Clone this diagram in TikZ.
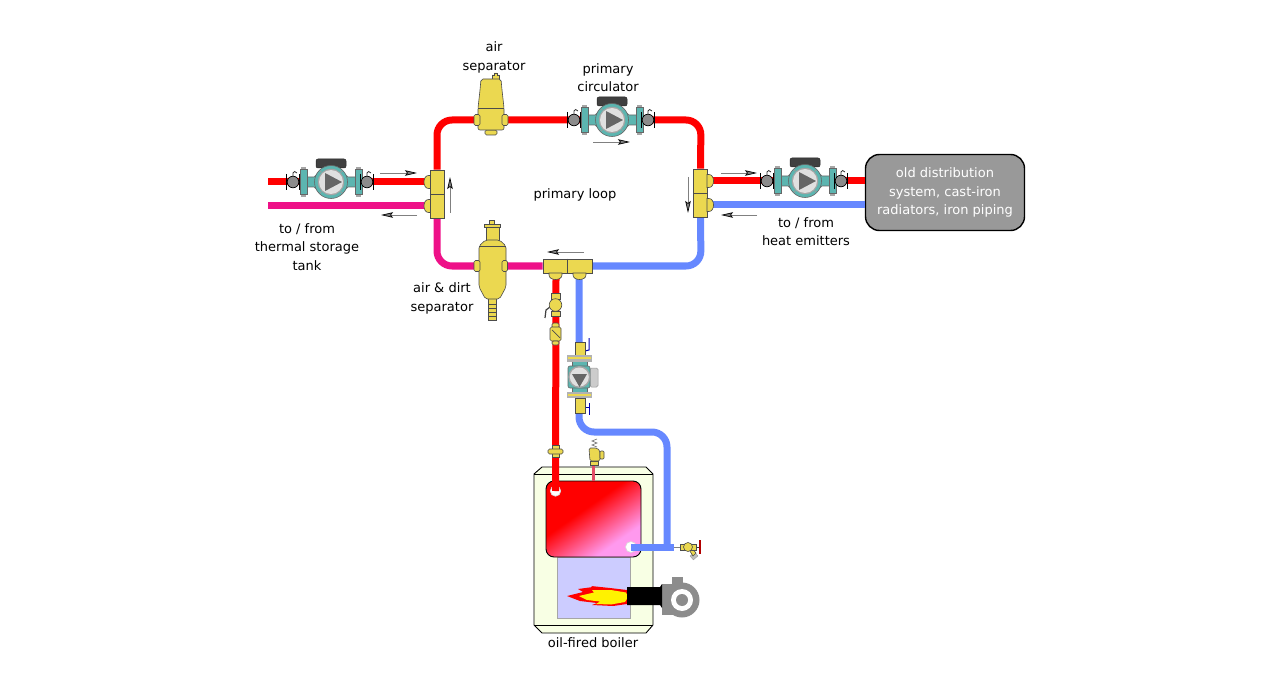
\documentclass[tikz,border=0pt]{standalone}
\usepackage{fontspec}
\setmainfont{DejaVu Sans}
\usetikzlibrary{arrows.meta}
\definecolor{hotred}{HTML}{FF0000}
\definecolor{coldblue}{HTML}{6688FF}
\definecolor{mixpink}{HTML}{EE1188}
\definecolor{brasscol}{HTML}{EBD850}
\definecolor{pumpteal}{HTML}{5CB5B0}
\definecolor{jacketcol}{HTML}{F8FFE4}
\definecolor{fireboxcol}{HTML}{CCCCFF}
\definecolor{tankpink}{HTML}{FF99EE}
\pgfdeclareverticalshading{boilerheat}{100bp}{color(0bp)=(tankpink); color(31bp)=(tankpink); color(58bp)=(hotred); color(100bp)=(hotred)}
\tikzstyle{hotpipe}=[draw=hotred,line width=7pt,rounded corners=15pt]
\tikzstyle{coldpipe}=[draw=coldblue,line width=7pt,rounded corners=15pt]
\tikzstyle{mixpipe}=[draw=mixpink,line width=7pt,rounded corners=15pt]
\tikzstyle{brass}=[draw=black!70,fill=brasscol,line width=.6pt]
\tikzstyle{tee}=[brass,inner sep=0pt,minimum width=14pt,minimum height=48pt]
\tikzstyle{pumpbody}=[draw=black!60,fill=pumpteal,line width=.6pt]
\tikzstyle{flow}=[color=black!50,line width=.7pt,-{Stealth[length=12pt,width=5.5pt,inset=2pt,black]}]
\tikzstyle{caption}=[font=\fontsize{13}{18.5}\selectfont,align=center,inner sep=0pt]
\tikzset{
  pics/port/.style={code={
    \draw[brass] (0,-6.5) -- (-2,-6.5) .. controls (-8,-6.5) and (-8,6.5) .. (-2,6.5) -- (0,6.5) -- cycle;
  }},
  pics/isoball/.style={code={
    \draw[black!80,line width=.8pt] (0,-6) -- (0,-9) .. controls (0,-11) and (3,-11) .. (4,-9);
    \draw[draw=black,fill=black!45,line width=.7pt] (0,0) circle (5.8);
    \draw[black,line width=1.2pt] (-6.3,-8) -- (-6.3,8) (6.3,-8) -- (6.3,8);
  }},
  pics/circulator/.style={code={
    \draw[pumpbody] (-27,-5) -- (-17,-5) -- (-9,-13) -- (9,-13) -- (17,-5) -- (27,-5)
      -- (27,5) -- (17,5) -- (9,13) -- (-9,13) -- (-17,5) -- (-27,5) -- cycle;
    \foreach \fx in {-27.5,27.5}{
      \fill[black!35] (\fx-2.5,-15) rectangle (\fx+2.5,15);
      \draw[pumpbody] (\fx-3.5,-12.5) rectangle (\fx+3.5,12.5);
    }
    \draw[draw=black!85,fill=black!75,rounded corners=2pt,line width=.5pt] (-15,-23) rectangle (15,-14);
    \draw[pumpbody] (0,0) circle (16.5);
    \foreach \sa in {45,135,225,315}
      \fill[black!40] (\sa:14.8) circle (1);
    \fill[black!35] (0,0) circle (13.2);
    \fill[black!12] (0,0) circle (12);
    \fill[black!60] (-6,-9) -- (11,0) -- (-6,9) -- cycle;
    \pic at (-38,0) {isoball};
    \pic at (36,0) {isoball};
  }},
  pics/airsep/.style={code={
    \draw[brass] (1,-41) -- (1,-45) -- (3,-45) -- (3,-47) -- (6,-47) -- (6,-45) -- (8,-45) -- (8,-41) -- cycle;
    \draw[brass,rounded corners=1.5pt] (-6,10) rectangle (6,15);
    \draw[brass,rounded corners=2pt] (-10,-41) -- (10,-41) -- (11,-30) -- (13,-12) -- (13,10)
      -- (-13,10) -- (-13,-12) -- (-11,-30) -- cycle;
    \draw[black!70,line width=.5pt] (-13,-12) -- (13,-12);
    \draw[brass,rounded corners=1.5pt] (-17,-5.5) rectangle (-11,5.5);
    \draw[brass,rounded corners=1.5pt] (11,-5.5) rectangle (17,5.5);
  }},
  pics/dirtsep/.style={code={
    \draw[brass] (-3,-46) rectangle (2,-42);
    \draw[brass] (-8,-42) rectangle (8,-39);
    \draw[brass] (-6.5,-39) rectangle (6.5,-26);
    \draw[brass] (-4,32) rectangle (4,54);
    \draw[black!70,line width=.5pt] (-4,38) -- (4,38) (-4,42) -- (4,42) (-4,46) -- (4,46) (-4,50) -- (4,50);
    \draw[brass,rounded corners=2pt] (-7,-26) -- (7,-26) -- (13.5,-20) -- (13.5,21) -- (7,33)
      -- (-7,33) -- (-13.5,21) -- (-13.5,-20) -- cycle;
    \draw[black!70,line width=.5pt] (-13.5,-20) -- (13.5,-20);
    \draw[brass,rounded corners=1.5pt] (-18.5,-5.5) rectangle (-12.5,5.5);
    \draw[brass,rounded corners=1.5pt] (9.5,-5.5) rectangle (15,5.5);
  }}
}
\begin{document}
\begin{tikzpicture}[x=1pt,y=-1pt]
  \useasboundingbox (0,0) rectangle (1280,695);
  % boiler casing, tank and firebox
  \draw[draw=black,fill=jacketcol,line width=.9pt] (542,467) -- (646,467) -- (653,474) -- (653,625)
    -- (646,633) -- (542,633) -- (534,625) -- (534,474) -- cycle;
  \draw[black,line width=.6pt] (534,474) -- (653,474) (534,625) -- (653,625);
  \node(firebox)[draw=black!35,fill=fireboxcol,line width=.8pt,inner sep=0pt,minimum width=73pt,minimum height=61pt] at (593.5,587.5){};
  \node(tank)[draw=black,shade,shading=boilerheat,shading angle=35,rounded corners=8pt,line width=.9pt,inner sep=0pt,minimum width=95pt,minimum height=76pt] at (593.5,519){};
  \node(supply)[draw=black!15,fill=white,circle,line width=.6pt,inner sep=0pt,minimum size=10.5pt] at (555.5,491){};
  \node(return)[draw=black!15,fill=white,circle,line width=.6pt,inner sep=0pt,minimum size=11pt] at (631,547){};
  % burner and flame
  \fill[hotred] (567,596) -- (583,592) -- (578,589) -- (593,587) -- (591,586) -- (610,588) -- (627,590)
    -- (630,597) -- (627,604) -- (613,606) -- (592,605) -- (597,603) -- (580,601) -- cycle;
  \fill[yellow] (579,596) -- (594,592.5) -- (592,590) -- (611,590) -- (626,592.5) -- (628,597) -- (625,602)
    -- (611,604.5) -- (596,604) -- (600,601.5) -- (587,600) -- cycle;
  \fill[black!45] (672,577) rectangle (683,586);
  \fill[black!45] (662,584) rectangle (682,615);
  \fill[black] (627,587) -- (660,587) -- (662,584) -- (662,608) -- (660,605) -- (627,605) -- cycle;
  \fill[black!45] (682,600) circle (17.5);
  \fill[white] (682,600) circle (11);
  \fill[black!45] (682,600) circle (6);
  % anchor points of the tees and the loop corners
  \node(teeL)[tee] at (437,194){};
  \node(teeR)[tee] at (700.5,193){};
  \node(teeB)[tee,minimum width=49pt,minimum height=14pt] at (567.5,266){};
  \node(heat)[draw=black,fill=black!40,text=white,caption,line width=1.4pt,rounded corners=14pt,minimum width=159pt,minimum height=76pt] at (945,192.5){old distribution\\system, cast-iron\\radiators, iron piping};
  \coordinate(nw) at (437,120);
  \coordinate(ne) at (701,120);
  \coordinate(sw) at (437,266);
  \coordinate(se) at (701,266);
  \coordinate(tankA) at (268,182);
  \coordinate(tankB) at (268,206);
  \coordinate(teeLa) at (428,182);
  \coordinate(teeLb) at (428,206);
  \coordinate(teeRa) at (709,181);
  \coordinate(teeRb) at (709,205);
  \coordinate(hotB) at (556,278);
  \coordinate(coldB) at (579,278);
  \coordinate(coldC) at (579,432);
  \coordinate(coldD) at (667,432);
  \coordinate(coldE) at (667,547);
  \coordinate(drain) at (674,547);
  \coordinate(relief) at (593,464);
  % piping
  \draw[hotpipe] (teeL.north) -- (nw) -- (ne) -- (teeR.north);
  \draw[mixpipe] (teeL.south) -- (sw) -- (teeB.west);
  \draw[coldpipe] (teeB.east) -- (se) -- (teeR.south);
  \draw[hotpipe] (tankA) -- (teeLa);
  \draw[mixpipe] (tankB) -- (teeLb);
  \draw[hotpipe] (teeRa) -- (heat.west |- teeRa);
  \draw[coldpipe] (teeRb) -- (heat.west |- teeRb);
  \draw[hotpipe] (hotB) -- (supply.center);
  \draw[coldpipe] (coldB) -- (coldC) -- (coldD) -- (coldE);
  \draw[coldpipe] (return.center) -- (drain);
  \draw[draw=hotred!85!blue!70!white,line width=3pt] (relief) -- (tank.north -| relief);
  % tees
  \node[tee] at (teeL){};
  \node[tee] at (teeR){};
  \node[tee,minimum width=49pt,minimum height=14pt] at (teeB){};
  \draw[black!70,line width=.5pt] (teeL.west) -- (teeL.east) (teeR.west) -- (teeR.east) (teeB.north) -- (teeB.south);
  \pic at (430.5,182) {port};
  \pic at (430.5,206) {port};
  \pic[rotate=180] at (707,181) {port};
  \pic[rotate=180] at (707,205) {port};
  \pic[rotate=90] at (555.5,273) {port};
  \pic[rotate=90] at (579.5,273) {port};
  % circulators and separators
  \pic at (331,182) {circulator};
  \pic at (612,120) {circulator};
  \pic at (805,181) {circulator};
  \pic at (491,120) {airsep};
  \pic at (492.5,266) {dirtsep};
  % ball valve, check valve and union on the boiler supply
  \draw[black!75,line width=1.2pt] (550,307) -- (546,310) -- (545,318);
  \draw[brass] (551,293) rectangle (560,299);
  \draw[brass] (551,311) rectangle (560,316);
  \draw[brass] (555.5,305) circle (6.3);
  \draw[brass,rounded corners=1.5pt] (552,323) rectangle (559,328);
  \draw[brass,rounded corners=1.5pt] (550,327) rectangle (561,341);
  \draw[brass,rounded corners=1.5pt] (552,341) rectangle (559,345);
  \draw[black!70,line width=.7pt] (552,330) -- (560,338);
  \draw[brass] (552,445) rectangle (559,457);
  \draw[brass,rounded corners=1.5pt] (548,449) rectangle (563,454);
  % return side pump with its flange valves
  \draw[blue!70!black,line width=1pt] (589,338) -- (589,350) -- (585,351);
  \draw[blue!70!black,line width=1pt] (589,403) -- (589,415) (585,407) -- (589,407);
  \draw[brass] (575,342) rectangle (585,355);
  \draw[brass] (575,398) rectangle (585,413);
  \draw[draw=black!40,fill=black!20,rounded corners=1.5pt,line width=.5pt] (590,368) rectangle (598,387);
  \draw[pumpbody] (572,358) rectangle (587,396);
  \draw[pumpbody,rounded corners=2pt] (568,366) rectangle (590,388);
  \fill[black!30] (567,355) rectangle (592,362);
  \fill[brasscol] (568,356.5) rectangle (591,359);
  \fill[black!30] (567,392) rectangle (592,398);
  \fill[brasscol] (568,393.5) rectangle (591,396);
  \fill[black!35] (579.3,377) circle (11);
  \fill[black!12] (579.3,377) circle (9.5);
  \fill[black!60] (572,374) -- (587,374) -- (579.5,387) -- cycle;
  % relief valve and drain
  \draw[black!60,line width=.6pt] (597,439) -- (592,441) -- (597,443) -- (592,445) -- (597,447);
  \draw[brass] (590,461) rectangle (598,465);
  \draw[brass,rounded corners=1.5pt] (589,448) -- (597,448) -- (600,451) -- (600,461) -- (590,461) -- cycle;
  \draw[brass,rounded corners=1pt] (600,451) rectangle (604,459);
  \draw[black!50,line width=1pt] (drain) -- (680,547);
  \draw[black!80,line width=1pt] (696,547) -- (700,547);
  \draw[draw=black!40,fill=black!25,rotate around={40:(694,556)}] (691,553.5) rectangle (697,558.5);
  \draw[brass] (688,548) -- (693,556) -- (696,553) -- (691,547) -- cycle;
  \draw[brass] (680,544) rectangle (696,550);
  \draw[brass] (688,547) circle (4.5);
  \draw[draw=red!70!black,line width=2pt] (700,540) -- (700,554);
  % flow directions
  \coordinate(arrA) at (380,173);
  \coordinate(arrB) at (417,173);
  \coordinate(arrC) at (417,215);
  \coordinate(arrD) at (381,215);
  \coordinate(arrE) at (450,213);
  \coordinate(arrF) at (450,177);
  \coordinate(arrG) at (593,142);
  \coordinate(arrH) at (630,142);
  \coordinate(arrI) at (688,177);
  \coordinate(arrJ) at (688,213);
  \coordinate(arrK) at (721,173);
  \coordinate(arrL) at (757,173);
  \coordinate(arrM) at (757,215);
  \coordinate(arrN) at (721,215);
  \coordinate(arrO) at (584,252);
  \coordinate(arrP) at (547,252);
  \path[flow] (arrA) edge (arrB)
              (arrC) edge (arrD)
              (arrE) edge (arrF)
              (arrG) edge (arrH)
              (arrI) edge (arrJ)
              (arrK) edge (arrL)
              (arrM) edge (arrN)
              (arrO) edge (arrP);
  % captions
  \node(capAir)[caption] at (494,57.5){air\\separator};
  \node(capCirc)[caption] at (608,77.5){primary\\circulator};
  \node(capLoop)[caption] at (575,194.5){primary loop};
  \node(capTank)[caption] at (307,247){to / from\\thermal storage\\tank};
  \node(capDirt)[caption] at (442,298.5){air \& dirt\\separator};
  \node(capEmit)[caption] at (806,231.5){to / from\\heat emitters};
  \node(capBoiler)[caption] at (593,643){oil-fired boiler};
\end{tikzpicture}
\end{document}
